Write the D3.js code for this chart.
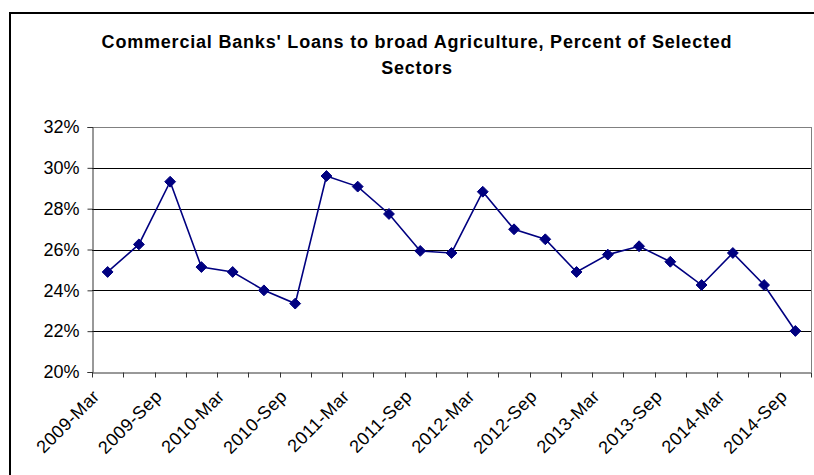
<!DOCTYPE html>
<html><head><meta charset="utf-8">
<script src="https://cdn.jsdelivr.net/npm/d3@7"></script>
<style>body{margin:0;background:#fff}svg{display:block}text{font-family:"Liberation Sans",Arial,sans-serif}</style>
</head><body><svg id="c" width="814" height="475"></svg>
<script>
const categories = ["2009-Mar","2009-Jun","2009-Sep","2009-Dec","2010-Mar","2010-Jun","2010-Sep","2010-Dec","2011-Mar","2011-Jun","2011-Sep","2011-Dec","2012-Mar","2012-Jun","2012-Sep","2012-Dec","2013-Mar","2013-Jun","2013-Sep","2013-Dec","2014-Mar","2014-Jun","2014-Sep"];
const values = [24.90,26.25,29.32,25.14,24.90,24.00,23.35,29.60,29.08,27.74,25.93,25.83,28.83,26.99,26.50,24.90,25.75,26.16,25.40,24.26,25.83,24.26,22.01];
const yTicks = [20,22,24,26,28,30,32];
const xLabels = ["2009-Mar","2009-Sep","2010-Mar","2010-Sep","2011-Mar","2011-Sep","2012-Mar","2012-Sep","2013-Mar","2013-Sep","2014-Mar","2014-Sep"];
const titleLines = ["Commercial Banks' Loans to broad Agriculture, Percent of Selected","Sectors"];

const svg = d3.select("#c");
const L = 92, R = 811, T = 127, B = 372;
svg.append("rect").attr("x",10).attr("y",13).attr("width",820).attr("height",480)
  .attr("fill","none").attr("stroke","#000").attr("stroke-width",2);

const x = d3.scaleBand().domain(categories).range([L,R]).padding(0);
const y = d3.scaleLinear().domain([20,32]).range([B,T]);

// title
svg.append("g").selectAll("text").data(titleLines).join("text")
  .attr("x",417).attr("y",(d,i)=>48+i*26).attr("text-anchor","middle")
  .attr("font-size",18).attr("letter-spacing",0.8).attr("font-weight","bold").attr("fill","#000").text(d=>d);

// gridlines
svg.append("g").selectAll("line").data(yTicks.filter(v=>v>20)).join("line")
  .attr("x1",L).attr("x2",R).attr("y1",d=>Math.round(y(d))+0.5).attr("y2",d=>Math.round(y(d))+0.5)
  .attr("stroke",d=>d===32?"#808080":"#000").attr("stroke-width",1);
// plot area right border
svg.append("line").attr("x1",R+0.5).attr("x2",R+0.5).attr("y1",T).attr("y2",B).attr("stroke","#808080");

// y axis
const ya = svg.append("g").attr("transform",`translate(${L+0.5},0)`)
  .call(d3.axisLeft(y).tickValues(yTicks).tickSize(5).tickFormat(d=>d+"%"));
ya.select(".domain").attr("stroke","#333");
ya.selectAll(".tick line").attr("stroke","#333");
ya.selectAll("text").attr("font-size",18).attr("font-family","'Liberation Sans',Arial,sans-serif").attr("fill","#000").attr("x",-13);

// x axis
const xa = svg.append("g").attr("transform",`translate(0,${B+0.5})`)
  .call(d3.axisBottom(x).tickSize(0).tickFormat(""));
xa.select(".domain").attr("stroke","#333");
const bounds = categories.map(c=>x(c)).concat([R]);
xa.selectAll(".bound").data(bounds).join("line").attr("class","bound")
  .attr("x1",d=>Math.round(d)+0.5).attr("x2",d=>Math.round(d)+0.5).attr("y1",0).attr("y2",5).attr("stroke","#333");
xa.selectAll(".lbl").data(xLabels).join("text").attr("class","lbl")
  .attr("transform",d=>`translate(${x(d)+x.bandwidth()/2-16},16) rotate(-45)`)
  .attr("text-anchor","end").attr("dy","0.7em").attr("font-size",18).attr("letter-spacing",0.4).attr("fill","#000").text(d=>d);

// line + markers
const cx = d=>x(d)+x.bandwidth()/2;
svg.append("path").datum(values).attr("fill","none").attr("stroke","#000080").attr("stroke-width",1.6)
  .attr("d",d3.line().x((d,i)=>cx(categories[i])).y(d=>y(d)));
svg.append("g").selectAll("path").data(values).join("path")
  .attr("d",d3.symbol().type(d3.symbolDiamond2).size(75))
  .attr("transform",(d,i)=>`translate(${cx(categories[i])},${y(d)})`)
  .attr("fill","#000080").attr("stroke","#000080").attr("stroke-width",1);
</script></body></html>
